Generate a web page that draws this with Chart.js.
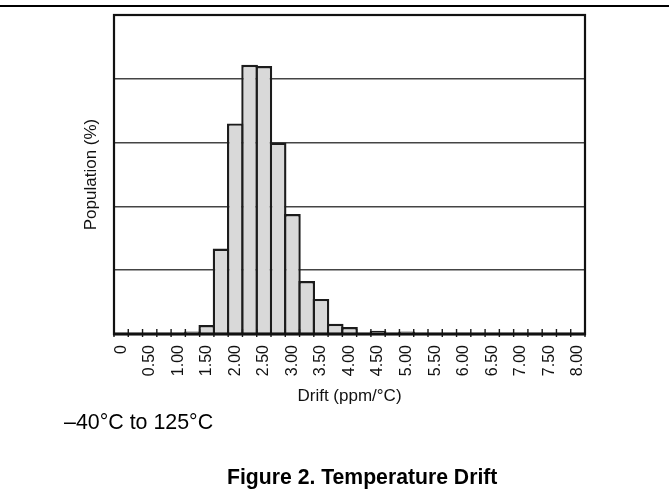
<!DOCTYPE html>
<html>
<head>
<meta charset="utf-8">
<script src="https://cdn.jsdelivr.net/npm/chart.js@4.4.1/dist/chart.umd.min.js"></script>
<style>
  html, body { margin: 0; padding: 0; background: #fff; }
  #wrap { position: relative; width: 669px; height: 491px; overflow: hidden; font-family: 'Liberation Sans', Arial, sans-serif; color: #000; }
  #rule { position: absolute; left: 0; top: 5px; width: 669px; height: 0; border-top: 2px solid #000; }
  canvas { position: absolute; left: 0; top: 0; }
  .txt { position: absolute; white-space: nowrap; line-height: 21px; }
  #note { left: 64px; top: 412px; font-size: 21.4px; }
  #caption { left: 227px; top: 466px; font-size: 21.2px; font-weight: bold; }
</style>
</head>
<body>
<div id="wrap">
  <div id="rule"></div>
  <canvas id="c" width="669" height="491"></canvas>
  <div id="note" class="txt">–40°C to 125°C</div>
  <div id="caption" class="txt">Figure 2. Temperature Drift</div>
</div>
<script>
// Bin start values (ppm/°C), one bar slot per 0.25
const categories = [0, 0.25, 0.5, 0.75, 1, 1.25, 1.5, 1.75, 2, 2.25, 2.5, 2.75, 3, 3.25, 3.5, 3.75,
  4, 4.25, 4.5, 4.75, 5, 5.25, 5.5, 5.75, 6, 6.25, 6.5, 6.75, 7, 7.25, 7.5, 7.75, 8];
// Population per bin (grid units, axis has no numeric labels)
const population = [null, null, null, null, null, 0.04, 0.14, 1.34, 3.30, 4.22, 4.20, 3.00, 1.88, 0.83, 0.55, 0.16,
  0.11, null, 0.05, null, 0.04, null, null, null, null, null, null, null, null, null, null, null, null];
// Tick labels shown every other slot
const tickLabels = ["0", "", "0.50", "", "1.00", "", "1.50", "", "2.00", "", "2.50", "", "3.00", "", "3.50", "",
  "4.00", "", "4.50", "", "5.00", "", "5.50", "", "6.00", "", "6.50", "", "7.00", "", "7.50", "", "8.00"];
const yMin = 0, yMax = 5, yStep = 1;

Chart.defaults.font.family = "'Liberation Sans', Arial, sans-serif";
Chart.defaults.color = '#111';

const framePlugin = {
  id: 'frame',
  afterDatasetsDraw(chart) {
    const {ctx, chartArea: a, scales: {x}} = chart;
    ctx.save();
    // tick marks at slot boundaries, crossing the axis line
    ctx.strokeStyle = '#1a1a1a';
    ctx.lineWidth = 1.4;
    const n = categories.length;
    const half = (x.getPixelForValue(1) - x.getPixelForValue(0)) / 2;
    ctx.beginPath();
    for (let i = 0; i <= n; i++) {
      const px = (i < n ? x.getPixelForValue(i) - half : x.getPixelForValue(n - 1) + half);
      ctx.moveTo(px, a.bottom - 5);
      ctx.lineTo(px, a.bottom + 3);
    }
    ctx.stroke();
    // frame
    ctx.strokeStyle = '#111';
    ctx.lineWidth = 2.2;
    ctx.strokeRect(a.left, a.top, a.right - a.left, a.bottom - a.top);
    ctx.lineWidth = 2.8;
    ctx.beginPath();
    ctx.moveTo(a.left - 1, a.bottom);
    ctx.lineTo(a.right + 1, a.bottom);
    ctx.stroke();
    ctx.restore();
  }
};

new Chart(document.getElementById('c'), {
  type: 'bar',
  data: {
    labels: categories,
    datasets: [{
      data: population,
      backgroundColor: '#d9d9d9',
      borderColor: '#1c1c1c',
      borderWidth: 2.4,
      categoryPercentage: 1,
      barPercentage: 1.168
    }]
  },
  options: {
    responsive: false,
    animation: false,
    events: [],
    layout: { padding: { left: 0, top: 15, right: 84, bottom: 0 } },
    plugins: { legend: { display: false }, tooltip: { enabled: false } },
    scales: {
      x: {
        type: 'category',
        offset: true,
        grid: { display: false, drawTicks: false },
        border: { display: false },
        ticks: {
          autoSkip: false,
          maxRotation: 90,
          minRotation: 90,
          padding: 11,
          font: { size: 16 },
          color: '#111',
          callback: (v, i) => tickLabels[i]
        },
        title: {
          display: true,
          text: 'Drift (ppm/°C)',
          font: { size: 17 },
          color: '#111',
          padding: { top: 0, bottom: 84 }
        },
        afterFit: s => { s.height = 157; }
      },
      y: {
        min: yMin,
        max: yMax,
        ticks: { display: false, stepSize: yStep },
        grid: { color: '#444', lineWidth: 1.6, drawTicks: false },
        border: { display: false },
        title: {
          display: true,
          text: 'Population (%)',
          font: { size: 17 },
          color: '#111',
          padding: { top: 81, bottom: 0 }
        },
        afterFit: s => { s.width = 114; }
      }
    }
  },
  plugins: [framePlugin]
});
</script>
</body>
</html>
